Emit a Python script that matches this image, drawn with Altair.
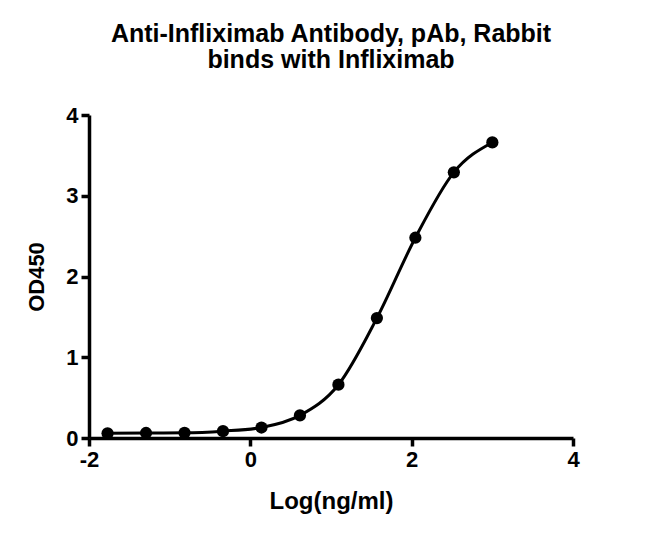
import altair as alt
import pandas as pd

log_conc = [-1.770, -1.293, -0.816, -0.339, 0.138, 0.615, 1.092, 1.569, 2.046, 2.523, 3.000]
od450 = [0.058, 0.062, 0.064, 0.085, 0.13, 0.28, 0.66, 1.485, 2.48, 3.29, 3.66]
x_ticks = [-2, 0, 2, 4]
y_ticks = [0, 1, 2, 3, 4]

df = pd.DataFrame({"x": log_conc, "y": od450})

FONT = "Liberation Sans"

common = dict(grid=False, domainColor="black", domainWidth=3.5, tickColor="black",
              tickWidth=3.5, tickSize=8, labelFont=FONT, labelFontSize=22,
              labelFontWeight="bold", labelColor="black", labelPadding=3,
              labelExpr="'' + datum.value", titleFont=FONT, titleFontWeight="bold",
              titleColor="black", labelFlush=False)

xenc = alt.X("x:Q", scale=alt.Scale(domain=[-2, 4], nice=False, zero=False),
             axis=alt.Axis(title="Log(ng/ml)", values=x_ticks, titleFontSize=24,
                           titlePadding=19, **common))
yenc = alt.Y("y:Q", scale=alt.Scale(domain=[0, 4], nice=False),
             axis=alt.Axis(title="OD450", values=y_ticks, titleFontSize=22,
                           titlePadding=17, **common))

line = alt.Chart(df).mark_line(color="black", strokeWidth=3, interpolate="monotone").encode(
    x=xenc, y=yenc)
pts = alt.Chart(df).mark_circle(color="black", opacity=1, size=150).encode(x="x:Q", y="y:Q")

chart = alt.layer(line, pts).properties(
    width=484, height=323,
    background="white",
    title=alt.TitleParams(
        text=["Anti-Infliximab Antibody, pAb, Rabbit", "binds with Infliximab"],
        font=FONT, fontSize=25, fontWeight="bold", color="black",
        lineHeight=26, anchor="middle", offset=31),
    autosize=alt.AutoSizeParams(type="none"),
    padding={"left": 81, "top": 107, "right": 69, "bottom": 95},
).configure_view(stroke=None)

chart.save("out.html", embed_options={"renderer": "svg", "actions": False})
